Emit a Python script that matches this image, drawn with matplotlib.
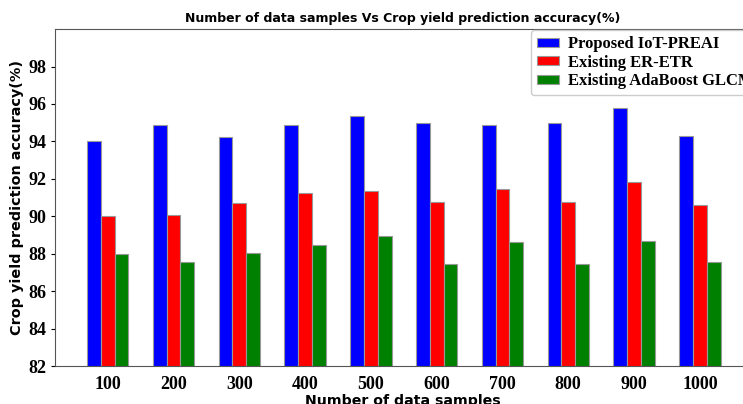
import matplotlib
matplotlib.use("Agg")
import matplotlib.pyplot as plt
import numpy as np

categories = ["100", "200", "300", "400", "500", "600", "700", "800", "900", "1000"]
proposed = [94.0, 94.9, 94.25, 94.9, 95.35, 95.0, 94.9, 95.0, 95.78, 94.3]
er_etr = [90.0, 90.05, 90.73, 91.23, 91.35, 90.78, 91.45, 90.78, 91.85, 90.62]
adaboost = [88.0, 87.55, 88.05, 88.45, 88.95, 87.45, 88.63, 87.45, 88.7, 87.55]
series_names = ["Proposed IoT-PREAI", "Existing ER-ETR", "Existing AdaBoost GLCM"]
yticks = [82, 84, 86, 88, 90, 92, 94, 96, 98]

fig = plt.figure(figsize=(7.43, 4.04), dpi=100)
ax = fig.add_axes([0.074, 0.094, 0.937, 0.834])

x = np.arange(len(categories))
w = 0.21
ax.bar(x - w, proposed, w, color="blue", edgecolor="#999999", linewidth=0.8, label=series_names[0])
ax.bar(x, er_etr, w, color="red", edgecolor="#999999", linewidth=0.8, label=series_names[1])
ax.bar(x + w, adaboost, w, color="green", edgecolor="#999999", linewidth=0.8, label=series_names[2])

ax.set_ylim(82, 100)
ax.set_xlim(-0.8, 9.78)
ax.set_yticks(yticks)
ax.set_xticks(x)
ax.set_xticklabels(categories)
serif = {"family": "Liberation Serif", "weight": "bold", "size": 13}
for lab in ax.get_xticklabels() + ax.get_yticklabels():
    lab.set_fontproperties(matplotlib.font_manager.FontProperties(**serif))
ax.tick_params(axis="x", length=0, pad=7)
ax.tick_params(axis="y", length=3, pad=3)
for s in ["top", "right", "left", "bottom"]:
    ax.spines[s].set_color("#555555")

ax.set_title("Number of data samples Vs Crop yield prediction accuracy(%)",
             fontsize=9, fontweight="bold", pad=5)
ax.set_xlabel("Number of data samples", fontsize=10.2, fontweight="bold", labelpad=1)
ax.set_ylabel("Crop yield prediction accuracy(%)", fontsize=10.4, fontweight="bold", labelpad=3)

leg = ax.legend(loc="upper left", bbox_to_anchor=(0.7147, 0.925), bbox_transform=fig.transFigure,
                borderaxespad=0,
                prop={"family": "Liberation Serif", "weight": "bold", "size": 12},
                handlelength=1.3, handleheight=0.45, labelspacing=0.15, borderpad=0.35,
                handletextpad=0.55, fancybox=True, framealpha=1)

fig.savefig("out.png", dpi=100)
